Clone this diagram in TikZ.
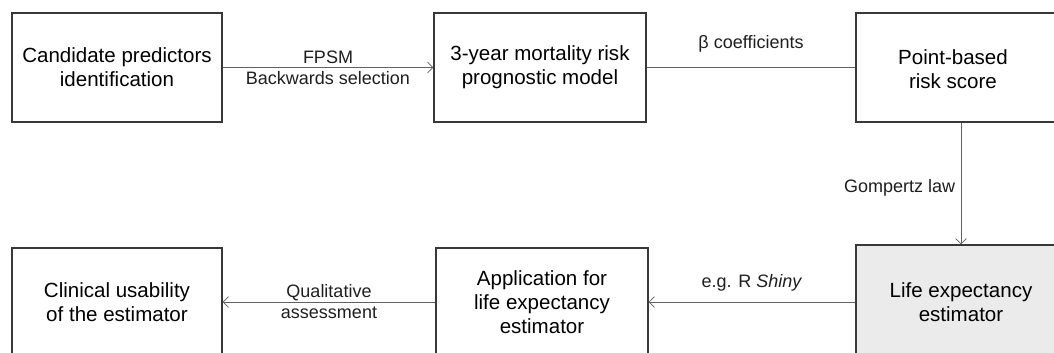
\documentclass[tikz,border=0pt]{standalone}
\usepackage{fontspec}
\setmainfont{Liberation Sans}
\usetikzlibrary{arrows.meta}
\tikzset{
  box/.style={draw=black!78, line width=0.85pt, inner sep=0pt, align=center,
    font=\fontsize{15.4pt}{18pt}\selectfont},
  boxtxt/.style={inner sep=0pt, align=center, font=\fontsize{15.4pt}{18pt}\selectfont},
  conn/.style={draw=black!62, line width=0.75pt},
  arr/.style={conn, -{Straight Barb[length=4pt,width=8pt,line width=0.6pt]}},
  lbl/.style={inner sep=0pt, align=center, text=black!88, font=\fontsize{13.5pt}{15.8pt}\selectfont}
}
\begin{document}
\begin{tikzpicture}[x=0.75pt,y=-0.75pt]
\useasboundingbox (0,0) rectangle (1054,353);
\clip (0,0) rectangle (1054,353);
\fill[white] (0,0) rectangle (1054,353);
% top row
\node[box, minimum width=157.5pt, minimum height=81.75pt] (b1) at (117,67.5) {Candidate predictors\\identification};
\node[box, minimum width=159pt, minimum height=81.75pt] (b2) at (540,67.5) {3-year mortality risk\\prognostic model};
\node[box, minimum width=157.5pt, minimum height=81.75pt] (b3) at (961,67.5) {};
\node[boxtxt] (t3) at (953,69) {Point-based\\risk score};
% bottom row
\node[box, minimum width=157.5pt, minimum height=81pt] (b4) at (117,302) {Clinical usability\\of the estimator};
\node[box, minimum width=159pt, minimum height=81pt] (b5) at (542,302) {Application for\\life expectancy\\estimator};
\node[box, fill=black!8, minimum width=157.5pt, minimum height=85.5pt] (b6) at (961,302) {Life expectancy\\estimator};
% connectors
\draw[arr] (b1.east) -- (b2.west) node[lbl, midway] {FPSM\\Backwards selection};
\draw[conn] (b2.east) -- (b3.west) node[lbl, midway, above=11pt] {β coefficients};
\draw[arr] (b3.south) -- (b6.north) node[lbl, midway, left=4pt, yshift=-3pt] {Gompertz law};
\draw[arr] (b6.west) -- (b5.east) node[lbl, midway, above=8pt] {e.g. R \textit{Shiny}};
\draw[arr] (b5.west) -- (b4.east) node[lbl, midway] {Qualitative\\assessment};
\end{tikzpicture}
\end{document}
